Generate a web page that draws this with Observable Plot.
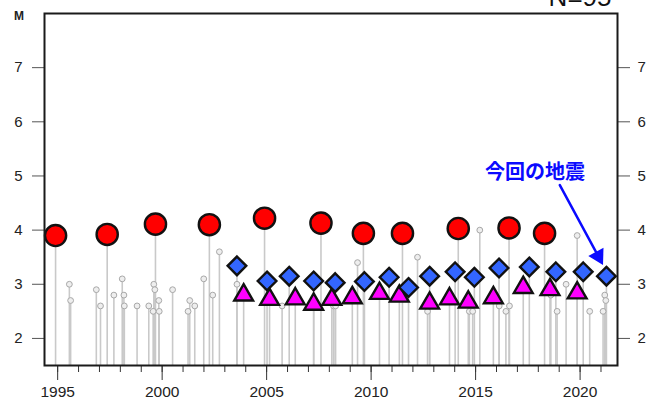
<!DOCTYPE html>
<html>
<head>
<meta charset="utf-8">
<script src="https://cdn.jsdelivr.net/npm/d3@7"></script>
<script src="https://cdn.jsdelivr.net/npm/@observablehq/plot@0.6"></script>
<style>
  html, body { margin: 0; padding: 0; background: white; }
</style>
</head>
<body>
<div id="chart"></div>
<script>
// ---- data (decimal year, magnitude) ----
const largeYears = [1994.9, 1997.37, 1999.68, 2002.26, 2004.9, 2007.6, 2009.63, 2011.5, 2014.17, 2016.6, 2018.3];
const largeM     = [3.90, 3.92, 4.11, 4.10, 4.22, 4.13, 3.94, 3.94, 4.03, 4.04, 3.94];

const midYears = [2003.58, 2005.02, 2006.08, 2007.25, 2008.28, 2009.68, 2010.86, 2011.79, 2012.8, 2014.02, 2014.94, 2016.12, 2017.57, 2018.84, 2020.15, 2021.26];
const midM     = [3.34, 3.06, 3.15, 3.06, 3.03, 3.05, 3.13, 2.94, 3.15, 3.23, 3.13, 3.30, 3.32, 3.23, 3.23, 3.15];

const lowYears = [2003.9, 2005.14, 2006.37, 2007.25, 2008.12, 2009.1, 2010.4, 2011.35, 2012.8, 2013.75, 2014.65, 2015.85, 2017.28, 2018.56, 2019.86];
const lowM     = [2.80, 2.72, 2.73, 2.63, 2.72, 2.75, 2.83, 2.78, 2.65, 2.73, 2.67, 2.75, 2.94, 2.90, 2.84];

const smallYears = [1995.56, 1995.62, 1996.85, 1997.05, 1997.69, 1998.09, 1998.17, 1998.19, 1998.8, 1999.36,
                    1999.6, 1999.65, 1999.57, 1999.84, 1999.86, 2000.5, 2001.24, 2001.32, 2001.56, 2001.99,
                    2002.42, 2002.74, 2003.58, 2005.74, 2008.2, 2008.3, 2009.35, 2012.22, 2012.7, 2014.7,
                    2014.86, 2015.2, 2016.13, 2016.45, 2016.62, 2018.6, 2018.9, 2019.33, 2019.86, 2020.46,
                    2021.1, 2021.18, 2021.23];
const smallM     = [3.0, 2.7, 2.9, 2.6, 2.8, 3.1, 2.8, 2.6, 2.6, 2.6,
                    3.0, 2.9, 2.5, 2.7, 2.5, 2.9, 2.5, 2.7, 2.6, 3.1,
                    2.8, 3.6, 3.0, 2.6, 2.6, 2.6, 3.4, 3.5, 2.5, 2.5,
                    2.5, 4.0, 2.6, 2.5, 2.6, 2.8, 2.5, 3.0, 3.9, 2.5,
                    2.5, 2.8, 2.7];

const yTicks = [2, 3, 4, 5, 6, 7];
const xMajorTicks = [1995, 2000, 2005, 2010, 2015, 2020];
const xMinorTicks = d3.range(1995, 2022);
const xDomain = [1994.37, 2021.79];
const yDomain = [1.5, 8.0];

const countLabel = "N=95";
const axisLabel = "M";
// annotation: label and arrow pointing at the latest event
const noteText = "今回の地震";
const note = [{x: 2017.84, y: 5.06, text: noteText}];
const arrow = [{x1: 2019.03, y1: 4.83, x2: 2021.1, y2: 3.355}];

// ---- build tables ----
const kinds = ["large", "mid", "low"];
const kindSymbol = ["circle", "diamond2", "triangle"];
const kindFill = ["#ff0000", "#3366ff", "#ff00ff"];
const kindR = {large: 10.6, mid: 8.4, low: 7.0};

const big = [
  ...largeYears.map((t, i) => ({t, m: largeM[i], kind: "large"})),
  ...midYears.map((t, i) => ({t, m: midM[i], kind: "mid"})),
  ...lowYears.map((t, i) => ({t, m: lowM[i], kind: "low"}))
].sort((a, b) => a.t - b.t);
const small = smallYears.map((t, i) => ({t, m: smallM[i]}));
const all = [...small, ...big];

const chart = Plot.plot({
  width: 656,
  height: 401,
  marginLeft: 44,
  marginRight: 39,
  marginTop: 13,
  marginBottom: 36,
  style: {fontFamily: "'Liberation Sans', Arial, sans-serif", background: "white", color: "#222", overflow: "hidden"},
  x: {domain: xDomain},
  y: {domain: yDomain},
  r: {type: "linear", domain: [0, 1], range: [0, 1]},
  symbol: {domain: kinds, range: kindSymbol},
  color: {domain: kinds, range: kindFill},
  marks: [
    Plot.ruleX(all, {x: "t", y1: yDomain[0], y2: "m", stroke: "#c9c9c9", strokeWidth: 1.6}),
    Plot.dot(small, {x: "t", y: "m", r: 2.9, fill: "#eeeeee", stroke: "#a8a8a8", strokeWidth: 1}),
    Plot.dot(big, {x: "t", y: "m", r: d => kindR[d.kind], symbol: "kind", fill: "kind",
      stroke: "#111", strokeWidth: 2.4, sort: null}),
    Plot.arrow(arrow, {x1: "x1", y1: "y1", x2: "x2", y2: "y2", stroke: "#0a0aff", strokeWidth: 2.5,
      headLength: 0, insetEnd: 9}),
    Plot.dot(arrow, {x: "x2", y: "y2", symbol: "triangle", r: 6.4, fill: "#0a0aff", stroke: "none",
      rotate: 151.6, dx: -4.8, dy: -8.8}),
    Plot.text(note, {x: "x", y: "y", text: "text", fill: "#0a0aff", fontSize: 20, fontWeight: "bold",
      fontFamily: "'Noto Sans CJK JP', sans-serif", textAnchor: "middle", lineAnchor: "middle"}),
    Plot.axisY({anchor: "left", ticks: yTicks, tickSize: 12, tickPadding: 10, tickFormat: "d", fontSize: 15, stroke: "#555", fill: "#222", label: null}),
    Plot.axisY({anchor: "right", ticks: yTicks, tickSize: 12, tickPadding: 8, tickFormat: "d", fontSize: 15, stroke: "#555", fill: "#222", label: null}),
    Plot.axisX({ticks: xMinorTicks, tickSize: 7, stroke: "#333", fill: "none", label: null}),
    Plot.axisX({ticks: xMajorTicks, tickSize: 15, tickPadding: 5, tickFormat: "d", fontSize: 15.5, stroke: "#333", fill: "#222", label: null}),
    Plot.frame({stroke: "#1a1a1a", strokeWidth: 2}),
    Plot.text([axisLabel], {text: d => d, frameAnchor: "top-left", textAnchor: "middle", lineAnchor: "bottom",
      dx: -25.5, dy: 6, fontSize: 12, fontWeight: "bold", fill: "#222"}),
    Plot.text([countLabel], {text: d => d, frameAnchor: "top-right", textAnchor: "end", lineAnchor: "bottom",
      dx: -6, dy: -8, fontSize: 26, fill: "#111"})
  ]
});
document.getElementById("chart").appendChild(chart);
</script>
</body>
</html>
